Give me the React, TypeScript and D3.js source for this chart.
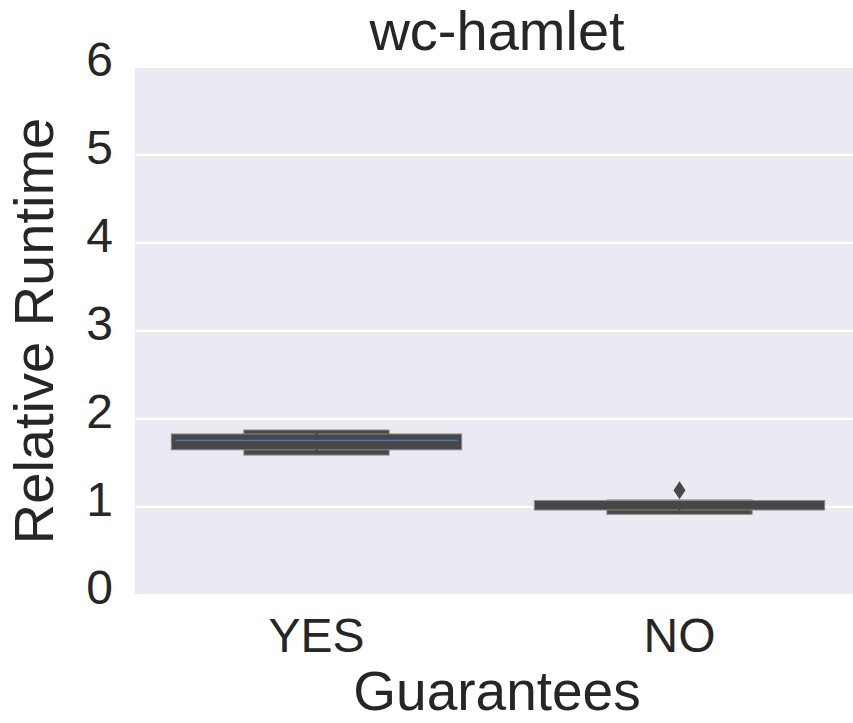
import { useEffect, useRef } from 'react';
import * as d3 from 'd3';

// categories on the x axis
const categories = ['YES', 'NO'];
// letter-value boxes per category, widest (IQR) first: [low, high]
const yesLevels = [[1.65, 1.83], [1.59, 1.875], [1.61, 1.86]];
const noLevels = [[0.966, 1.073], [0.917, 1.08], [0.93, 1.07]];
const medians = [1.755, null];
const outliers = [[], [1.19]];
const yTicks = [0, 1, 2, 3, 4, 5, 6];

const App = () => {
    const svgRef = useRef(null);
    const width = 853;
    const height = 723;
    const plot = { left: 135, right: 861, top: 67, bottom: 595 };

    useEffect(() => {
        const svg = d3.select(svgRef.current);
        svg.selectAll('*').remove();

        const font = '"Liberation Sans", Arial, sans-serif';
        const textColor = '#262626';

        const x = d3.scaleBand().domain(categories).range([plot.left, plot.right]).padding(0);
        const y = d3.scaleLinear().domain([0, 6]).range([plot.bottom, plot.top]);

        // background
        svg.append('rect')
            .attr('x', plot.left)
            .attr('y', plot.top)
            .attr('width', plot.right - plot.left)
            .attr('height', plot.bottom - plot.top)
            .attr('fill', '#eaeaf2');

        // grid
        svg.append('g')
            .selectAll('line')
            .data(yTicks)
            .join('line')
            .attr('x1', plot.left)
            .attr('x2', plot.right)
            .attr('y1', d => y(d))
            .attr('y2', d => y(d))
            .attr('stroke', '#ffffff')
            .attr('stroke-width', 2);

        const boxW = x.bandwidth() * 0.8;
        const allLevels = [yesLevels, noLevels];

        categories.forEach((cat, ci) => {
            const cx = x(cat) + x.bandwidth() / 2;
            const levels = allLevels[ci].map((l, i) => ({ low: l[0], high: l[1], i }));
            // narrower level behind the widest one, the innermost sliver last
            const order = [levels[1], levels[0], levels[2]];
            const g = svg.append('g');
            g.selectAll('rect')
                .data(order)
                .join('rect')
                .attr('x', d => cx - Math.max(boxW * (1 - d.i / 2), 2) / 2)
                .attr('width', d => Math.max(boxW * (1 - d.i / 2), 2))
                .attr('y', d => y(d.high))
                .attr('height', d => y(d.low) - y(d.high))
                .attr('fill', '#474747')
                .attr('stroke', d => d.i === 2 ? 'none' : '#8a8a8a')
                .attr('stroke-width', 1);

            const m = medians[ci];
            if (m !== null) {
                g.append('line')
                    .attr('x1', cx - boxW / 2 + 4)
                    .attr('x2', cx + boxW / 2 - 4)
                    .attr('y1', y(m))
                    .attr('y2', y(m))
                    .attr('stroke', '#4c72b0')
                    .attr('stroke-width', 1.5);
            }

            g.selectAll('path.out')
                .data(outliers[ci])
                .join('path')
                .attr('class', 'out')
                .attr('d', d => `M${cx},${y(d) - 9}L${cx + 6},${y(d)}L${cx},${y(d) + 9}L${cx - 6},${y(d)}Z`)
                .attr('fill', '#474747');
        });

        // y tick labels
        svg.append('g')
            .selectAll('text')
            .data(yTicks)
            .join('text')
            .attr('x', 113)
            .attr('y', d => y(d) + 9)
            .attr('text-anchor', 'end')
            .attr('font-family', font)
            .attr('font-size', 48)
            .attr('fill', textColor)
            .text(d => d);

        // x tick labels
        svg.append('g')
            .selectAll('text')
            .data(categories)
            .join('text')
            .attr('x', d => x(d) + x.bandwidth() / 2)
            .attr('y', 652)
            .attr('text-anchor', 'middle')
            .attr('font-family', font)
            .attr('font-size', 48)
            .attr('fill', textColor)
            .text(d => d);

        svg.append('text')
            .attr('x', 497)
            .attr('y', 50)
            .attr('text-anchor', 'middle')
            .attr('font-family', font)
            .attr('font-size', 56)
            .attr('fill', textColor)
            .text('wc-hamlet');

        svg.append('text')
            .attr('x', 497)
            .attr('y', 710)
            .attr('text-anchor', 'middle')
            .attr('font-family', font)
            .attr('font-size', 55)
            .attr('fill', textColor)
            .text('Guarantees');

        svg.append('text')
            .attr('transform', 'translate(53,' + (plot.top + plot.bottom) / 2 + ') rotate(-90)')
            .attr('text-anchor', 'middle')
            .attr('font-family', font)
            .attr('font-size', 56)
            .attr('fill', textColor)
            .text('Relative Runtime');
    }, []);

    return (
        <div>
            <svg ref={svgRef} width={width} height={height}
                style={{ position: 'absolute', left: 0, top: 0 }}></svg>
        </div>
    );
};

export default App;
